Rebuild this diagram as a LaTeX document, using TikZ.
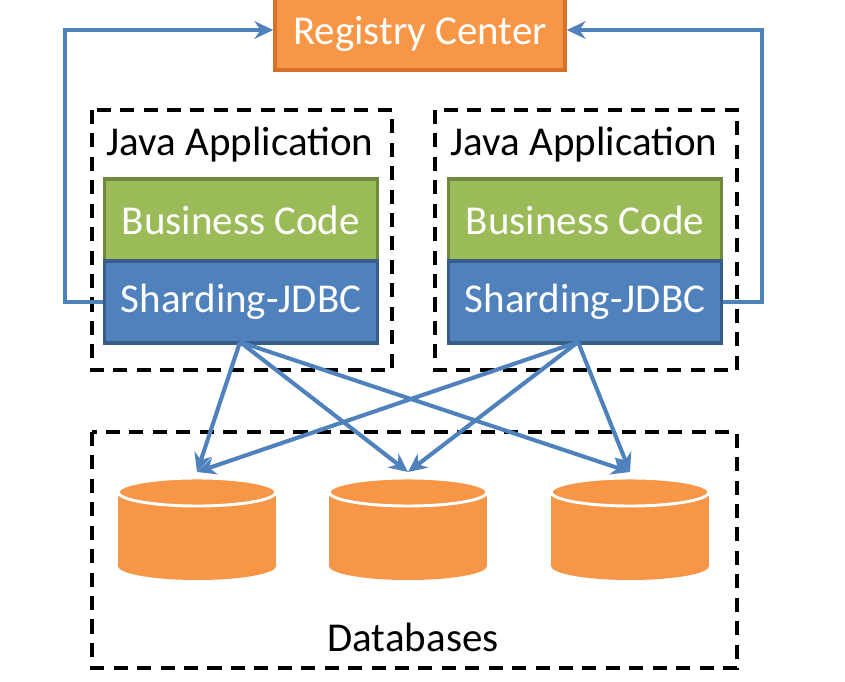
\documentclass[tikz,border=0pt]{standalone}
\usepackage{fontspec}
\setmainfont{Carlito}
\usetikzlibrary{arrows.meta}
\definecolor{regfill}{HTML}{F79646}
\definecolor{regdraw}{HTML}{D9702A}
\definecolor{bizfill}{HTML}{9BBB59}
\definecolor{bizdraw}{HTML}{71893F}
\definecolor{shdfill}{HTML}{4F81BD}
\definecolor{shddraw}{HTML}{385D8A}
\tikzstyle{block}=[rectangle,minimum width=273*0.03cm,minimum height=82*0.03cm,inner sep=0,line width=3pt,text=white,font=\fontsize{35}{40}\selectfont]
\tikzstyle{dashbox}=[draw,line width=3.2pt,dash pattern=on 12pt off 8pt]
\tikzstyle{link}=[line width=3.5pt,shdfill,-{Stealth[length=16pt,width=15pt]}]
\tikzstyle{label}=[font=\fontsize{35}{40}\selectfont]
\begin{document}
\begin{tikzpicture}[x=0.03cm,y=-0.03cm]
\useasboundingbox (0,0) rectangle (845,682);
% registry
\node[block,fill=regfill,draw=regdraw,minimum width=290*0.03cm,minimum height=72*0.03cm] (reg) at (420,34) {Registry Center};
% applications
\draw[dashbox] (92,110) rectangle (392,370);
\draw[dashbox] (435,110) rectangle (737,370);
\node[label] (jl) at (240,145) {Java Application};
\node[label] (jr) at (584,145) {Java Application};
\node[block,fill=bizfill,draw=bizdraw] (bl) at (241,220) {Business Code};
\node[block,fill=shdfill,draw=shddraw] (sl) at (241,302) {Sharding-JDBC};
\node[block,fill=bizfill,draw=bizdraw] (br) at (585,220) {Business Code};
\node[block,fill=shdfill,draw=shddraw] (sr) at (585,302) {Sharding-JDBC};
% databases
\draw[dashbox] (92,432) rectangle (737,668);
\node[label] (dbl) at (413,637) {Databases};
\foreach \x/\n in {197/d1,408/d2,630/d3}{
	\fill[white] (\x-83,490) rectangle (\x+83,566);
	\fill[white] (\x,566) ellipse[x radius=83,y radius=17];
	\fill[regfill] (\x-79,492) rectangle (\x+79,566);
	\fill[regfill] (\x,566) ellipse[x radius=79,y radius=14];
	\fill[regfill] (\x,492) ellipse[x radius=79,y radius=14];
	\draw[white,line width=2.5pt] (\x,492) ellipse[x radius=79,y radius=14];
	\coordinate (\n) at (\x,472);
}
% links
\coordinate (ls) at (240,342);
\coordinate (rs) at (578,342);
\foreach \n in {d1,d2,d3}{
	\draw[link] (ls)--(\n);
	\draw[link] (rs)--(\n);}
\draw[link] (sl.west)-|(65,30)--(reg.west|-0,30);
\draw[link] (sr.east)-|(762,30)--(reg.east|-0,30);
\end{tikzpicture}
\end{document}
